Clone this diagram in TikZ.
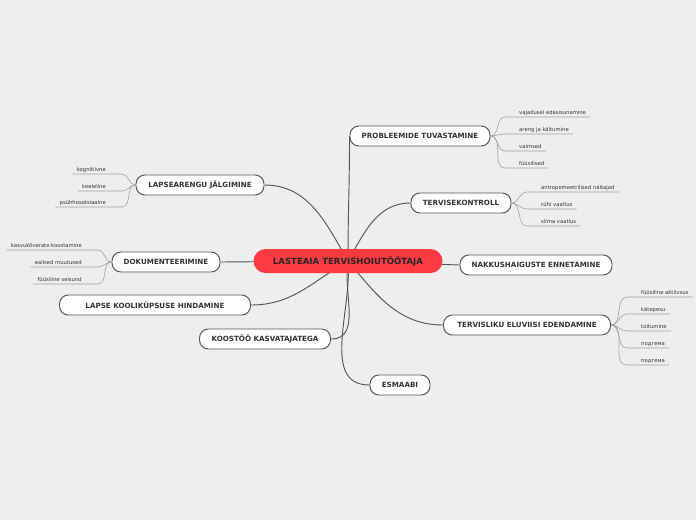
\documentclass[tikz,border=0pt]{standalone}
\usepackage{fontspec}
\setmainfont{DejaVu Sans}
\usepackage{tikz}
\usetikzlibrary{positioning, backgrounds}
\definecolor{canvasgrey}{RGB}{238,238,238}
\definecolor{rootred}{RGB}{255,58,64}
\definecolor{edgegrey}{RGB}{85,85,85}
\definecolor{twiggrey}{RGB}{160,160,160}
\definecolor{inkgrey}{RGB}{51,51,51}

\tikzset{
  topic/.style={draw=edgegrey, fill=white, line width=0.8pt, rounded corners=0.27cm,
    minimum height=0.6cm, inner xsep=0.2cm, font=\fontsize{6.1}{7}\selectfont\bfseries, text=inkgrey},
  rootnode/.style={fill=rootred, rounded corners=0.36cm, minimum height=0.72cm, minimum width=5.67cm,
    inner xsep=0.3cm, font=\fontsize{7.3}{8}\selectfont\bfseries, text=black!85},
  twig/.style={inner xsep=0pt, inner ysep=0.08cm, text depth=0pt,
    font=\fontsize{4.5}{5}\selectfont, text=inkgrey},
  branch/.style={edgegrey, line width=0.8pt},
  twigline/.style={twiggrey, line width=0.5pt}
}

\begin{document}
\begin{tikzpicture}[x=0.03cm, y=-0.03cm]
    \useasboundingbox (0,0) rectangle (696,520);

    % Central topic
    \node[rootnode] (root) at (348,261) {LASTEAIA TERVISHOIUTÖÖTAJA};

    % Main topics
    \node[topic, minimum width=4.2cm] (prob) at (420,136) {PROBLEEMIDE TUVASTAMINE};
    \node[topic, minimum width=3cm] (kontroll) at (461,203) {TERVISEKONTROLL};
    \node[topic, minimum width=4.56cm] (nakkus) at (536,265) {NAKKUSHAIGUSTE ENNETAMINE};
    \node[topic, minimum width=5.01cm] (eluviis) at (527,325) {TERVISLIKU ELUVIISI EDENDAMINE};
    \node[topic, minimum width=1.8cm] (esmaabi) at (400,385) {ESMAABI};
    \node[topic, minimum width=3.93cm] (koostoo) at (265,339) {KOOSTÖÖ KASVATAJATEGA};
    \node[topic, minimum width=5.73cm] (koolik) at (155,305) {LAPSE KOOLIKÜPSUSE HINDAMINE};
    \node[topic, minimum width=3.24cm] (dok) at (166,262) {DOKUMENTEERIMINE};
    \node[topic, minimum width=3.84cm] (areng) at (200,185) {LAPSEARENGU JÄLGIMINE};

    % Canvas and branches behind the topics
    \begin{scope}[on background layer]
        \fill[canvasgrey] (0,0) rectangle (696,520);
        \draw[branch] (prob.west) to[out=-90, in=90] (root.center);
        \draw[branch] (kontroll.west) to[out=180, in=60] (root.center);
        \draw[branch] (nakkus.west) -- (root.center);
        \draw[branch] (eluviis.west) to[out=180, in=-50] (root.center);
        \draw[branch] (esmaabi.west) to[out=180, in=-85] (root.center);
        \draw[branch] (koostoo.east) to[out=0, in=-100] (root.center);
        \draw[branch] (koolik.east) to[out=0, in=-150] (root.center);
        \draw[branch] (dok.east) -- (root.center);
        \draw[branch] (areng.east) to[out=0, in=120] (root.center);
    \end{scope}

    % Subtopics on the right
    \foreach \nm/\y/\txt in {p1/117/vajadusel edasisunamine, p2/134/areng ja käitumine,
                             p3/151/vaimsed, p4/168/füüsilised} {
        \node[twig, anchor=south west] (\nm) at (519,\y) {\txt};
        \draw[twigline] (prob.east) to[out=0, in=180] ([xshift=-0.42cm]\nm.south west)
            -- ([xshift=0.12cm]\nm.south east);
    }
    \foreach \nm/\y/\txt in {k1/192/antropomeetrilised näitajad, k2/209/rühi vaatlus,
                             k3/226/silma vaatlus} {
        \node[twig, anchor=south west] (\nm) at (541,\y) {\txt};
        \draw[twigline] (kontroll.east) to[out=0, in=180] ([xshift=-0.42cm]\nm.south west)
            -- ([xshift=0.12cm]\nm.south east);
    }
    \foreach \nm/\y/\txt in {e1/297/füüsiline aktiivsus, e2/314/kätepesu, e3/331/toitumine,
                             e4/348/подгема, e5/365/подгема} {
        \node[twig, anchor=south west] (\nm) at (641,\y) {\txt};
        \draw[twigline] (eluviis.east) to[out=0, in=180] ([xshift=-0.42cm]\nm.south west)
            -- ([xshift=0.12cm]\nm.south east);
    }

    % Subtopics on the left
    \foreach \nm/\y/\txt in {a1/174/kognitiivne, a2/191/keeleline, a3/207/psühhosotsiaalne} {
        \node[twig, anchor=south east] (\nm) at (106,\y) {\txt};
        \draw[twigline] (areng.west) to[out=180, in=0] ([xshift=0.48cm]\nm.south east)
            -- ([xshift=-0.12cm]\nm.south west);
    }
    \foreach \nm/\y/\txt in {d1/250/kasvukõverate koostamine, d2/267/ealised muutused,
                             d3/284/füüsiline seisund} {
        \node[twig, anchor=south east] (\nm) at (82,\y) {\txt};
        \draw[twigline] (dok.west) to[out=180, in=0] ([xshift=0.48cm]\nm.south east)
            -- ([xshift=-0.12cm]\nm.south west);
    }
\end{tikzpicture}
\end{document}
